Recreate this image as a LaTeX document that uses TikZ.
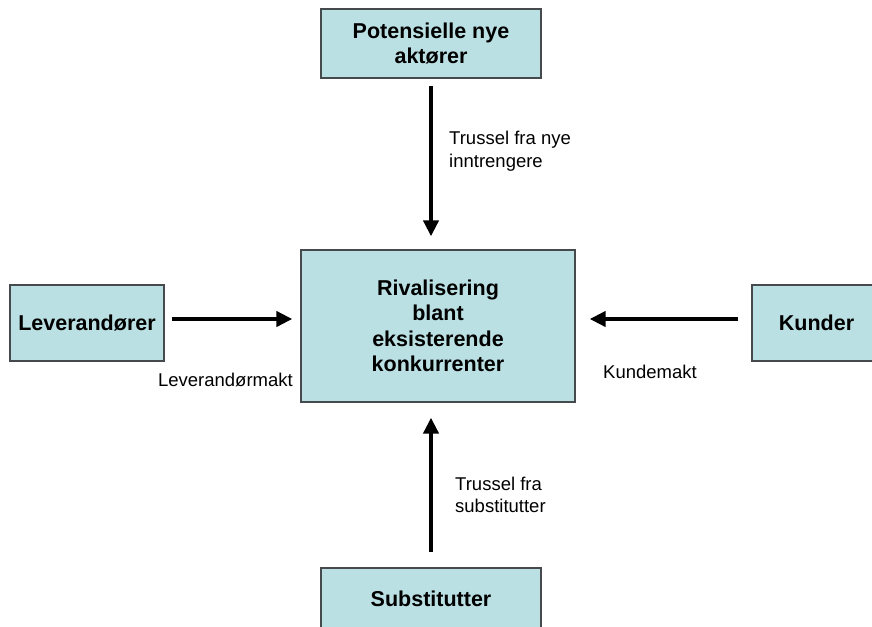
\documentclass[tikz,border=0pt]{standalone}
\usepackage{fontspec}
\setmainfont{Liberation Sans}
\usepackage{tikz}
\usepackage{xcolor}
\usetikzlibrary{arrows.meta,positioning}
\definecolor{BoxCyan}{RGB}{186,224,227}
\definecolor{BoxEdge}{RGB}{70,74,76}

\tikzset{
  forcebox/.style={draw=BoxEdge, line width=1.3pt, fill=BoxCyan, inner sep=0pt,
    align=center, font=\fontsize{21.5}{25.5}\selectfont\bfseries},
  forcearrow/.style={line width=4pt, -{Triangle[length=16pt,width=15pt]}},
  forcelabel/.style={inner sep=0pt, align=left, font=\fontsize{18.5}{22.5}\selectfont}
}

\begin{document}
\begin{tikzpicture}[x=1pt,y=-1pt]
      \useasboundingbox (0,0) rectangle (872,626);
      % boxes
      \node[forcebox, minimum width=274pt, minimum height=152pt] (riv) at (438,326)
        {Rivalisering\\blant\\eksisterende\\konkurrenter};
      \node[forcebox, minimum width=220pt, minimum height=69pt] (pot) at (431,43.5)
        {Potensielle nye\\aktører};
      \node[forcebox, minimum width=154pt, minimum height=76pt] (lev) at (87,323)
        {Leverandører};
      \node[forcebox, minimum width=129pt, minimum height=76pt] (kun) at (816.5,323)
        {Kunder};
      \node[forcebox, minimum width=220pt, minimum height=62pt] (sub) at (431,599)
        {Substitutter};
      % arrows
      \draw[forcearrow, shorten <=7pt, shorten >=13pt] (pot.south) -- (pot.south |- riv.north);
      \draw[forcearrow, shorten <=15pt, shorten >=15pt] (sub.north) -- (sub.north |- riv.south);
      \draw[forcearrow, shorten <=7pt, shorten >=8pt] ([yshift=4pt]lev.east) -- ([yshift=4pt]lev.east -| riv.west);
      \draw[forcearrow, shorten <=13pt, shorten >=14pt] ([yshift=4pt]kun.west) -- ([yshift=4pt]kun.west -| riv.east);
      % labels
      \node[forcelabel, anchor=west] (trnye) at (449,151) {Trussel fra nye\\inntrengere};
      \node[forcelabel, anchor=west] (trsub) at (455,495) {Trussel fra\\substitutter};
      \node[forcelabel, anchor=base east] (levmakt) at (293,386) {Leverandørmakt};
      \node[forcelabel, anchor=base west] (kunmakt) at (603,378) {Kundemakt};
    \end{tikzpicture}
\end{document}
